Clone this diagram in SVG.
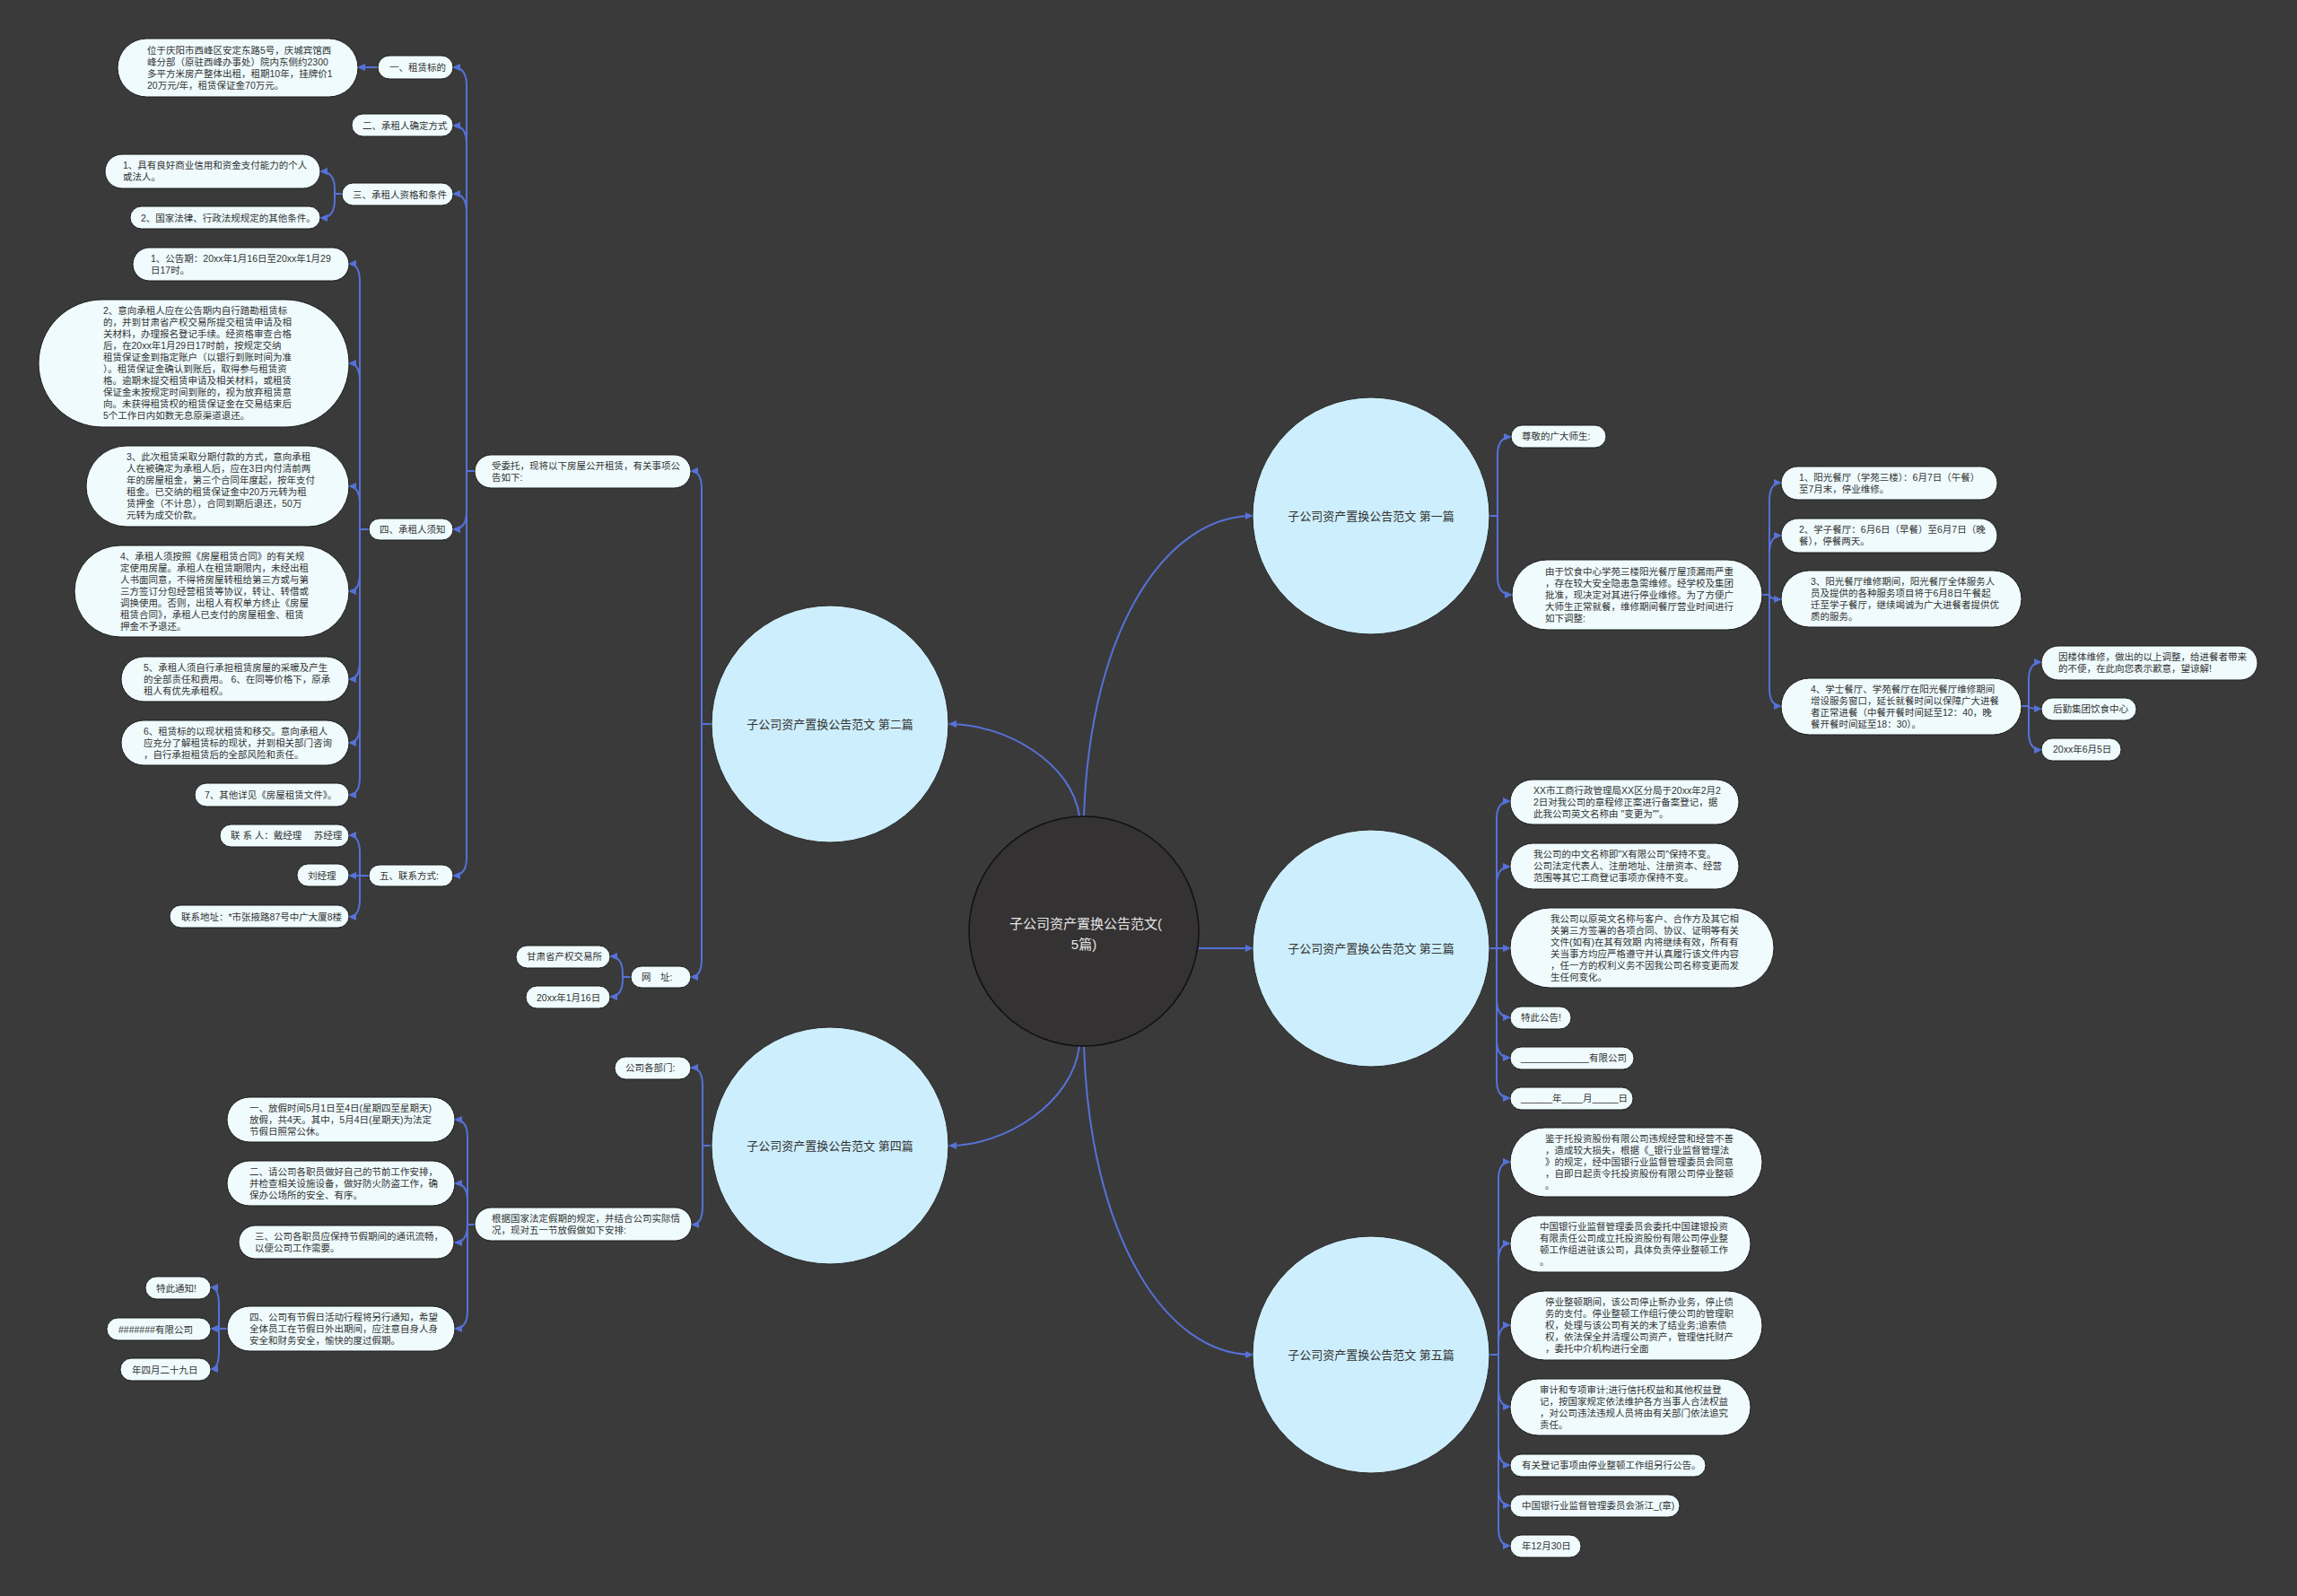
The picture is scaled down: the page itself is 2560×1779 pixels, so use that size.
<svg xmlns="http://www.w3.org/2000/svg" width="2560" height="1779" viewBox="0 0 2560 1779">
<defs>
<marker id="a" markerUnits="userSpaceOnUse" markerWidth="9" markerHeight="8" refX="8" refY="4" orient="auto"><path d="M0,0 L9,4 L0,8 z" fill="#5572d8"/></marker>
<style>
.c{fill:none;stroke:#5572d8;stroke-width:2;marker-end:url(#a)}
.n{fill:#effbfd;stroke:#1c1c1c;stroke-width:1}
.t{font-family:'Liberation Sans','Noto Sans CJK SC',sans-serif;font-size:10.5px;fill:#333}
.b{fill:#cdeefc;stroke:#2a2a2a;stroke-width:1}
.bt{font-family:'Liberation Sans','Noto Sans CJK SC',sans-serif;font-size:13px;fill:#333;text-anchor:middle}
.ct{font-family:'Liberation Sans','Noto Sans CJK SC',sans-serif;font-size:15px;fill:#e6e6e6;text-anchor:middle}
</style>
</defs>
<rect width="2560" height="1779" fill="#3b3a3b"/>

<g id="connectors">
<path class="c" d="M1208,910 C1215,700 1300,575 1396,575"/>
<path class="c" d="M1203,910 C1195,850 1120,807 1058,807"/>
<path class="c" d="M1336,1057 H1396"/>
<path class="c" d="M1203,1166 C1195,1230 1120,1277 1058,1277"/>
<path class="c" d="M1208,1166 C1215,1380 1300,1510 1396,1510"/>

<path class="c" d="M793,807 H782 V545 Q782,525 770,525"/>
<path class="c" d="M793,807 H782 V1069 Q782,1089 770,1089"/>

<path class="c" d="M529,525 H520 V95 Q520,75 505,75"/>
<path class="c" d="M529,525 H520 V160 Q520,140 505,140"/>
<path class="c" d="M529,525 H520 V236 Q520,216 505,216"/>
<path class="c" d="M529,525 H520 V570 Q520,590 505,590"/>
<path class="c" d="M529,525 H520 V956 Q520,976 505,976"/>

<path class="c" d="M421,75 H399"/>

<path class="c" d="M381,216 H373 V211 Q373,191 357,191"/>
<path class="c" d="M381,216 H373 V223 Q373,243 357,243"/>

<path class="c" d="M411,590 H401 V314 Q401,294 389,294"/>
<path class="c" d="M411,590 H401 V425 Q401,405 389,405"/>
<path class="c" d="M411,590 H401 V562 Q401,542 389,542"/>
<path class="c" d="M411,590 H401 V639 Q401,659 389,659"/>
<path class="c" d="M411,590 H401 V737 Q401,757 389,757"/>
<path class="c" d="M411,590 H401 V808 Q401,828 389,828"/>
<path class="c" d="M411,590 H401 V866 Q401,886 389,886"/>

<path class="c" d="M411,976 H401 V951 Q401,931 389,931"/>
<path class="c" d="M411,976 H389"/>
<path class="c" d="M411,976 H401 V1002 Q401,1022 389,1022"/>

<path class="c" d="M703,1089 H694 V1086 Q694,1066 680,1066"/>
<path class="c" d="M703,1089 H694 V1091 Q694,1111 680,1111"/>

<path class="c" d="M792,1277 H783 V1210 Q783,1190 770,1190"/>
<path class="c" d="M792,1277 H783 V1345 Q783,1365 771,1365"/>

<path class="c" d="M529,1365 H521 V1268 Q521,1248 507,1248"/>
<path class="c" d="M529,1365 H521 V1339 Q521,1319 507,1319"/>
<path class="c" d="M529,1365 H521 V1365 Q521,1385 507,1385"/>
<path class="c" d="M529,1365 H521 V1461 Q521,1481 507,1481"/>

<path class="c" d="M253,1481 H244 V1455 Q244,1435 235,1435"/>
<path class="c" d="M253,1481 H235"/>
<path class="c" d="M253,1481 H244 V1506 Q244,1526 235,1526"/>

<path class="c" d="M1660,575 H1669 V507 Q1669,487 1684,487"/>
<path class="c" d="M1660,575 H1669 V643 Q1669,663 1685,663"/>

<path class="c" d="M1964,663 H1972 V558 Q1972,538 1985,538"/>
<path class="c" d="M1964,663 H1972 V617 Q1972,597 1985,597"/>
<path class="c" d="M1964,663 H1972 Q1972,668 1985,668"/>
<path class="c" d="M1964,663 H1972 V767 Q1972,787 1985,787"/>

<path class="c" d="M2253,787 H2261 V758 Q2261,738 2275,738"/>
<path class="c" d="M2253,787 H2261 Q2261,790 2275,790"/>
<path class="c" d="M2253,787 H2261 V816 Q2261,836 2275,836"/>

<path class="c" d="M1660,1057 H1668 V913 Q1668,893 1683,893"/>
<path class="c" d="M1660,1057 H1668 V986 Q1668,966 1683,966"/>
<path class="c" d="M1660,1057 H1683"/>
<path class="c" d="M1660,1057 H1668 V1114 Q1668,1134 1683,1134"/>
<path class="c" d="M1660,1057 H1668 V1159 Q1668,1179 1683,1179"/>
<path class="c" d="M1660,1057 H1668 V1204 Q1668,1224 1683,1224"/>

<path class="c" d="M1660,1510 H1670 V1315 Q1670,1295 1683,1295"/>
<path class="c" d="M1660,1510 H1670 V1406 Q1670,1386 1683,1386"/>
<path class="c" d="M1660,1510 H1670 V1497 Q1670,1477 1683,1477"/>
<path class="c" d="M1660,1510 H1670 V1548 Q1670,1568 1683,1568"/>
<path class="c" d="M1660,1510 H1670 V1613 Q1670,1633 1683,1633"/>
<path class="c" d="M1660,1510 H1670 V1658 Q1670,1678 1683,1678"/>
<path class="c" d="M1660,1510 H1670 V1703 Q1670,1723 1683,1723"/>
</g>

<g id="center">
<circle cx="1208" cy="1038" r="128" fill="#343233" stroke="#111" stroke-width="1.5"/>
<text class="ct" x="1210" y="1035">子公司资产置换公告范文(</text>
<text class="ct" x="1208" y="1058">5篇)</text>
</g>

<g id="p1"><circle class="b" cx="1528" cy="575" r="132"/><text class="bt" x="1528" y="580">子公司资产置换公告范文 第一篇</text></g>
<g id="p2"><circle class="b" cx="925" cy="807" r="132"/><text class="bt" x="925" y="812">子公司资产置换公告范文 第二篇</text></g>
<g id="p3"><circle class="b" cx="1528" cy="1057" r="132"/><text class="bt" x="1528" y="1062">子公司资产置换公告范文 第三篇</text></g>
<g id="p4"><circle class="b" cx="925" cy="1277" r="132"/><text class="bt" x="925" y="1282">子公司资产置换公告范文 第四篇</text></g>
<g id="p5"><circle class="b" cx="1528" cy="1510" r="132"/><text class="bt" x="1528" y="1515">子公司资产置换公告范文 第五篇</text></g>

<g id="n-weituo"><rect class="n" x="529" y="507" width="241" height="37" rx="18.5"/><text class="t" x="548" y="522.5"><tspan x="548">受委托，现将以下房屋公开租赁，有关事项公</tspan><tspan x="548" dy="13">告如下:</tspan></text></g>
<g id="n-1"><rect class="n" x="421" y="62" width="84" height="26" rx="13"/><text class="t" x="434" y="79">一、租赁标的</text></g>
<g id="n-weiyu"><rect class="n" x="131" y="43" width="268" height="65" rx="32.5"/><text class="t" y="59.5"><tspan x="164">位于庆阳市西峰区安定东路5号，庆城宾馆西</tspan><tspan x="164" dy="13">峰分部（原驻西峰办事处）院内东侧约2300</tspan><tspan x="164" dy="13">多平方米房产整体出租，租期10年，挂牌价1</tspan><tspan x="164" dy="13">20万元/年，租赁保证金70万元。</tspan></text></g>
<g id="n-2"><rect class="n" x="392" y="127" width="113" height="25" rx="12.5"/><text class="t" x="404" y="144">二、承租人确定方式</text></g>
<g id="n-3"><rect class="n" x="381" y="204" width="124" height="25" rx="12.5"/><text class="t" x="393" y="221">三、承租人资格和条件</text></g>
<g id="n-3a"><rect class="n" x="117" y="172" width="240" height="38" rx="19"/><text class="t" y="188"><tspan x="137">1、具有良好商业信用和资金支付能力的个人</tspan><tspan x="137" dy="13">或法人。</tspan></text></g>
<g id="n-3b"><rect class="n" x="145" y="230" width="212" height="25" rx="12.5"/><text class="t" x="157" y="247">2、国家法律、行政法规规定的其他条件。</text></g>
<g id="n-4"><rect class="n" x="411" y="578" width="94" height="24" rx="12"/><text class="t" x="423" y="594">四、承租人须知</text></g>
<g id="n-4a"><rect class="n" x="148" y="276" width="241" height="37" rx="18.5"/><text class="t" y="291.5"><tspan x="168">1、公告期：20xx年1月16日至20xx年1月29</tspan><tspan x="168" dy="13">日17时。</tspan></text></g>
<g id="n-4b"><rect class="n" x="43" y="334" width="346" height="142" rx="71"/><text class="t" y="350"><tspan x="115">2、意向承租人应在公告期内自行踏勘租赁标</tspan><tspan x="115" dy="13">的，并到甘肃省产权交易所提交租赁申请及相</tspan><tspan x="115" dy="13">关材料，办理报名登记手续。经资格审查合格</tspan><tspan x="115" dy="13">后，在20xx年1月29日17时前，按规定交纳</tspan><tspan x="115" dy="13">租赁保证金到指定账户（以银行到账时间为准</tspan><tspan x="115" dy="13">）。租赁保证金确认到账后，取得参与租赁资</tspan><tspan x="115" dy="13">格。逾期未提交租赁申请及相关材料，或租赁</tspan><tspan x="115" dy="13">保证金未按规定时间到账的，视为放弃租赁意</tspan><tspan x="115" dy="13">向。未获得租赁权的租赁保证金在交易结束后</tspan><tspan x="115" dy="13">5个工作日内如数无息原渠道退还。</tspan></text></g>
<g id="n-4c"><rect class="n" x="96" y="497" width="293" height="90" rx="45"/><text class="t" y="513"><tspan x="141">3、此次租赁采取分期付款的方式，意向承租</tspan><tspan x="141" dy="13">人在被确定为承租人后，应在3日内付清前两</tspan><tspan x="141" dy="13">年的房屋租金，第三个合同年度起，按年支付</tspan><tspan x="141" dy="13">租金。已交纳的租赁保证金中20万元转为租</tspan><tspan x="141" dy="13">赁押金（不计息），合同到期后退还，50万</tspan><tspan x="141" dy="13">元转为成交价款。</tspan></text></g>
<g id="n-4d"><rect class="n" x="83" y="608" width="306" height="102" rx="51"/><text class="t" y="623.5"><tspan x="134">4、承租人须按照《房屋租赁合同》的有关规</tspan><tspan x="134" dy="13">定使用房屋。承租人在租赁期限内，未经出租</tspan><tspan x="134" dy="13">人书面同意，不得将房屋转租给第三方或与第</tspan><tspan x="134" dy="13">三方签订分包经营租赁等协议，转让、转借或</tspan><tspan x="134" dy="13">调换使用。否则，出租人有权单方终止《房屋</tspan><tspan x="134" dy="13">租赁合同》，承租人已支付的房屋租金、租赁</tspan><tspan x="134" dy="13">押金不予退还。</tspan></text></g>
<g id="n-4e"><rect class="n" x="135" y="732" width="254" height="50" rx="25"/><text class="t" y="747.5"><tspan x="160">5、承租人须自行承担租赁房屋的采暖及产生</tspan><tspan x="160" dy="13">的全部责任和费用。 6、在同等价格下，原承</tspan><tspan x="160" dy="13">租人有优先承租权。</tspan></text></g>
<g id="n-4f"><rect class="n" x="135" y="803" width="254" height="50" rx="25"/><text class="t" y="818.5"><tspan x="160">6、租赁标的以现状租赁和移交。意向承租人</tspan><tspan x="160" dy="13">应充分了解租赁标的现状，并到相关部门咨询</tspan><tspan x="160" dy="13">，自行承担租赁后的全部风险和责任。</tspan></text></g>
<g id="n-4g"><rect class="n" x="217" y="873" width="172" height="26" rx="13"/><text class="t" x="228" y="890">7、其他详见《房屋租赁文件》。</text></g>
<g id="n-5"><rect class="n" x="411" y="964" width="94" height="24" rx="12"/><text class="t" x="423" y="980">五、联系方式:</text></g>
<g id="n-5a"><rect class="n" x="245" y="919" width="144" height="25" rx="12.5"/><text class="t" x="257" y="935" xml:space="preserve">联 系 人：戴经理　 苏经理</text></g>
<g id="n-5b"><rect class="n" x="331" y="963" width="58" height="25" rx="12.5"/><text class="t" x="343" y="980">刘经理</text></g>
<g id="n-5c"><rect class="n" x="189" y="1009" width="200" height="25" rx="12.5"/><text class="t" x="202" y="1026">联系地址：*市张掖路87号中广大厦8楼</text></g>
<g id="n-wz"><rect class="n" x="703" y="1077" width="67" height="24" rx="12"/><text class="t" x="715" y="1093">网　址:</text></g>
<g id="n-wza"><rect class="n" x="575" y="1054" width="105" height="25" rx="12.5"/><text class="t" x="587" y="1070">甘肃省产权交易所</text></g>
<g id="n-wzb"><rect class="n" x="586" y="1099" width="94" height="25" rx="12.5"/><text class="t" x="598" y="1116">20xx年1月16日</text></g>

<g id="n-bm"><rect class="n" x="685" y="1178" width="85" height="25" rx="12.5"/><text class="t" x="697" y="1194">公司各部门:</text></g>
<g id="n-gj"><rect class="n" x="529" y="1346" width="242" height="37" rx="18.5"/><text class="t" y="1361.5"><tspan x="548">根据国家法定假期的规定，并结合公司实际情</tspan><tspan x="548" dy="13">况，现对五一节放假做如下安排:</tspan></text></g>
<g id="n-gj1"><rect class="n" x="253" y="1223" width="254" height="50" rx="25"/><text class="t" y="1238.5"><tspan x="278">一、放假时间5月1日至4日(星期四至星期天)</tspan><tspan x="278" dy="13">放假，共4天。其中，5月4日(星期天)为法定</tspan><tspan x="278" dy="13">节假日照常公休。</tspan></text></g>
<g id="n-gj2"><rect class="n" x="253" y="1294" width="254" height="50" rx="25"/><text class="t" y="1309.5"><tspan x="278">二、请公司各职员做好自己的节前工作安排，</tspan><tspan x="278" dy="13">并检查相关设施设备，做好防火防盗工作，确</tspan><tspan x="278" dy="13">保办公场所的安全、有序。</tspan></text></g>
<g id="n-gj3"><rect class="n" x="266" y="1366" width="240" height="37" rx="18.5"/><text class="t" y="1381.5"><tspan x="284">三、公司各职员应保持节假期间的通讯流畅，</tspan><tspan x="284" dy="13">以便公司工作需要。</tspan></text></g>
<g id="n-gj4"><rect class="n" x="253" y="1456" width="254" height="50" rx="25"/><text class="t" y="1471.5"><tspan x="278">四、公司有节假日活动行程将另行通知，希望</tspan><tspan x="278" dy="13">全体员工在节假日外出期间，应注意自身人身</tspan><tspan x="278" dy="13">安全和财务安全，愉快的度过假期。</tspan></text></g>
<g id="n-gj4a"><rect class="n" x="162" y="1423" width="73" height="25" rx="12.5"/><text class="t" x="174" y="1440">特此通知!</text></g>
<g id="n-gj4b"><rect class="n" x="119" y="1469" width="116" height="25" rx="12.5"/><text class="t" x="132" y="1486">#######有限公司</text></g>
<g id="n-gj4c"><rect class="n" x="134" y="1514" width="101" height="25" rx="12.5"/><text class="t" x="147" y="1531">年四月二十九日</text></g>

<g id="n-zj"><rect class="n" x="1684" y="474" width="106" height="25" rx="12.5"/><text class="t" x="1696" y="490">尊敬的广大师生:</text></g>
<g id="n-yy"><rect class="n" x="1685" y="624" width="279" height="78" rx="39"/><text class="t" y="640.5"><tspan x="1722">由于饮食中心学苑三楼阳光餐厅屋顶漏雨严重</tspan><tspan x="1722" dy="13">，存在较大安全隐患急需维修。经学校及集团</tspan><tspan x="1722" dy="13">批准，现决定对其进行停业维修。为了方便广</tspan><tspan x="1722" dy="13">大师生正常就餐，维修期间餐厅营业时间进行</tspan><tspan x="1722" dy="13">如下调整:</tspan></text></g>
<g id="n-yy1"><rect class="n" x="1985" y="520" width="241" height="37" rx="18.5"/><text class="t" y="535.5"><tspan x="2005">1、阳光餐厅（学苑三楼）：6月7日（午餐）</tspan><tspan x="2005" dy="13">至7月末，停业维修。</tspan></text></g>
<g id="n-yy2"><rect class="n" x="1985" y="578" width="241" height="38" rx="19"/><text class="t" y="594"><tspan x="2005">2、学子餐厅：6月6日（早餐）至6月7日（晚</tspan><tspan x="2005" dy="13">餐），停餐两天。</tspan></text></g>
<g id="n-yy3"><rect class="n" x="1985" y="636" width="268" height="63" rx="31.5"/><text class="t" y="651.5"><tspan x="2018">3、阳光餐厅维修期间，阳光餐厅全体服务人</tspan><tspan x="2018" dy="13">员及提供的各种服务项目将于6月8日午餐起</tspan><tspan x="2018" dy="13">迁至学子餐厅，继续竭诚为广大进餐者提供优</tspan><tspan x="2018" dy="13">质的服务。</tspan></text></g>
<g id="n-yy4"><rect class="n" x="1985" y="756" width="268" height="63" rx="31.5"/><text class="t" y="771.5"><tspan x="2018">4、学士餐厅、学苑餐厅在阳光餐厅维修期间</tspan><tspan x="2018" dy="13">增设服务窗口，延长就餐时间以保障广大进餐</tspan><tspan x="2018" dy="13">者正常进餐（中餐开餐时间延至12：40，晚</tspan><tspan x="2018" dy="13">餐开餐时间延至18：30）。</tspan></text></g>
<g id="n-yy4a"><rect class="n" x="2275" y="720" width="241" height="38" rx="19"/><text class="t" y="736"><tspan x="2294">因楼体维修，做出的以上调整，给进餐者带来</tspan><tspan x="2294" dy="13">的不便，在此向您表示歉意，望谅解!</tspan></text></g>
<g id="n-yy4b"><rect class="n" x="2275" y="778" width="106" height="25" rx="12.5"/><text class="t" x="2288" y="794">后勤集团饮食中心</text></g>
<g id="n-yy4c"><rect class="n" x="2275" y="823" width="89" height="25" rx="12.5"/><text class="t" x="2288" y="839">20xx年6月5日</text></g>

<g id="n-gs"><rect class="n" x="1683" y="869" width="255" height="50" rx="25"/><text class="t" y="884.5"><tspan x="1709">XX市工商行政管理局XX区分局于20xx年2月2</tspan><tspan x="1709" dy="13">2日对我公司的章程修正案进行备案登记，据</tspan><tspan x="1709" dy="13">此我公司英文名称由 "变更为""。</tspan></text></g>
<g id="n-zw"><rect class="n" x="1683" y="940" width="255" height="51" rx="25.5"/><text class="t" y="956"><tspan x="1709">我公司的中文名称即"X有限公司"保持不变。</tspan><tspan x="1709" dy="13">公司法定代表人、注册地址、注册资本、经营</tspan><tspan x="1709" dy="13">范围等其它工商登记事项亦保持不变。</tspan></text></g>
<g id="n-yw"><rect class="n" x="1683" y="1012" width="294" height="89" rx="44.5"/><text class="t" y="1027.5"><tspan x="1728">我公司以原英文名称与客户、合作方及其它相</tspan><tspan x="1728" dy="13">关第三方签署的各项合同、协议、证明等有关</tspan><tspan x="1728" dy="13">文件(如有)在其有效期 内将继续有效，所有有</tspan><tspan x="1728" dy="13">关当事方均应严格遵守并认真履行该文件内容</tspan><tspan x="1728" dy="13">，任一方的权利义务不因我公司名称变更而发</tspan><tspan x="1728" dy="13">生任何变化。</tspan></text></g>
<g id="n-tc"><rect class="n" x="1683" y="1122" width="68" height="25" rx="12.5"/><text class="t" x="1695" y="1138">特此公告!</text></g>
<g id="n-yx"><rect class="n" x="1683" y="1167" width="138" height="25" rx="12.5"/><text class="t" x="1695" y="1183">_____________有限公司</text></g>
<g id="n-nyr"><rect class="n" x="1683" y="1212" width="137" height="25" rx="12.5"/><text class="t" x="1695" y="1228">______年____月_____日</text></g>

<g id="n-jy"><rect class="n" x="1683" y="1257" width="281" height="77" rx="38.5"/><text class="t" y="1273"><tspan x="1722">鉴于托投资股份有限公司违规经营和经营不善</tspan><tspan x="1722" dy="13">，造成较大损失，根据《_银行业监督管理法</tspan><tspan x="1722" dy="13">》的规定，经中国银行业监督管理委员会同意</tspan><tspan x="1722" dy="13">，自即日起责令托投资股份有限公司停业整顿</tspan><tspan x="1722" dy="13">。</tspan></text></g>
<g id="n-wt"><rect class="n" x="1683" y="1355" width="268" height="63" rx="31.5"/><text class="t" y="1370.5"><tspan x="1716">中国银行业监督管理委员会委托中国建银投资</tspan><tspan x="1716" dy="13">有限责任公司成立托投资股份有限公司停业整</tspan><tspan x="1716" dy="13">顿工作组进驻该公司，具体负责停业整顿工作</tspan><tspan x="1716" dy="13">。</tspan></text></g>
<g id="n-ty"><rect class="n" x="1683" y="1439" width="281" height="77" rx="38.5"/><text class="t" y="1455"><tspan x="1722">停业整顿期间，该公司停止新办业务，停止债</tspan><tspan x="1722" dy="13">务的支付。停业整顿工作组行使公司的管理职</tspan><tspan x="1722" dy="13">权，处理与该公司有关的未了结业务;追索债</tspan><tspan x="1722" dy="13">权，依法保全并清理公司资产，管理信托财产</tspan><tspan x="1722" dy="13">，委托中介机构进行全面</tspan></text></g>
<g id="n-sj"><rect class="n" x="1683" y="1537" width="268" height="63" rx="31.5"/><text class="t" y="1552.5"><tspan x="1716">审计和专项审计;进行信托权益和其他权益登</tspan><tspan x="1716" dy="13">记，按国家规定依法维护各方当事人合法权益</tspan><tspan x="1716" dy="13">，对公司违法违规人员将由有关部门依法追究</tspan><tspan x="1716" dy="13">责任。</tspan></text></g>
<g id="n-dj"><rect class="n" x="1683" y="1621" width="218" height="25" rx="12.5"/><text class="t" x="1696" y="1637">有关登记事项由停业整顿工作组另行公告。</text></g>
<g id="n-zjg"><rect class="n" x="1683" y="1666" width="189" height="25" rx="12.5"/><text class="t" x="1696" y="1682">中国银行业监督管理委员会浙江_(章)</text></g>
<g id="n-rq"><rect class="n" x="1683" y="1711" width="79" height="25" rx="12.5"/><text class="t" x="1696" y="1727">年12月30日</text></g>
</svg>
